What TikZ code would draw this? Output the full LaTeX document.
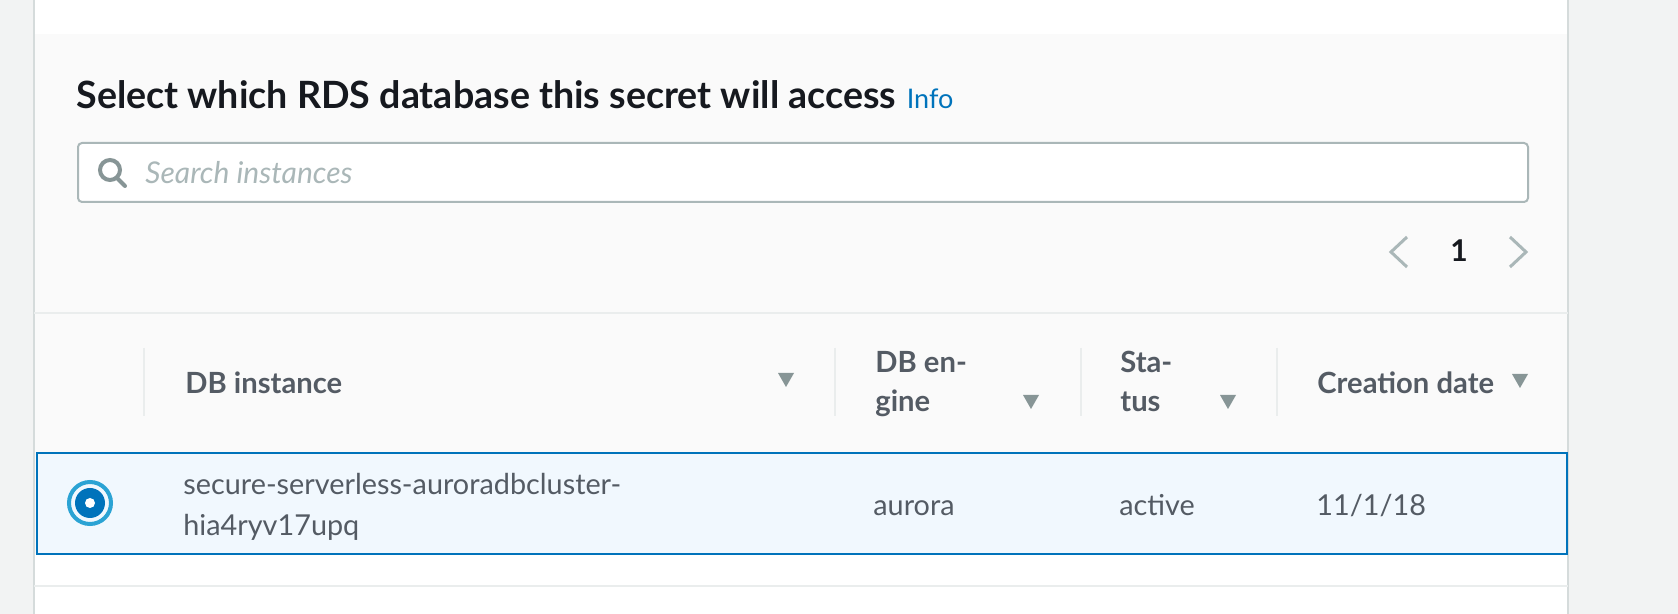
\documentclass[tikz,border=0pt]{standalone}
\usepackage{fontspec}
\setmainfont{Lato}
\usepackage{xcolor}
\usetikzlibrary{positioning}

\definecolor{pagegray}{HTML}{F2F3F3}
\definecolor{panelgray}{HTML}{FAFAFA}
\definecolor{edgegray}{HTML}{D5DBDB}
\definecolor{rulegray}{HTML}{EAEDED}
\definecolor{inkdark}{HTML}{16191F}
\definecolor{inkgray}{HTML}{545B64}
\definecolor{icongray}{HTML}{879596}
\definecolor{hintgray}{HTML}{AAB7B8}
\definecolor{awsblue}{HTML}{0073BB}
\definecolor{ringcyan}{HTML}{2BA3D4}
\definecolor{rowblue}{HTML}{F1F8FE}

\begin{document}
\begin{tikzpicture}[x=0.5pt, y=-0.5pt,
    head/.style={anchor=base west, inner sep=0pt, text=inkgray,
        font=\fontsize{14.6}{17}\selectfont\bfseries},
    cell/.style={anchor=base west, inner sep=0pt, text=inkgray,
        font=\fontsize{14.4}{17}\selectfont},
    rule/.style={rulegray, line width=1pt}]

    \useasboundingbox (0,0) rectangle (1678,614);

    %background
    \fill[pagegray] (0,0) rectangle (1678,614);
    \fill[white] (34,0) rectangle (1568,34);
    \fill[panelgray] (34,34) rectangle (1568,554);
    \fill[white] (34,554) rectangle (1568,614);
    \draw[edgegray, line width=1pt] (34,0) -- (34,614);
    \draw[edgegray, line width=1pt] (1568,0) -- (1568,614);

    %title
    \node[anchor=base west, inner sep=0pt, text=inkdark,
        font=\fontsize{18.8}{22}\selectfont\bfseries] (title) at (76,109)
        {Select which RDS database this secret will access};
    \node[right=5pt of title.base east, anchor=base west, inner sep=0pt,
        text=awsblue, font=\fontsize{13.5}{16}\selectfont] (info) {Info};

    %search box
    \node[draw=hintgray, line width=1pt, rounded corners=2pt, fill=white,
        anchor=north west, inner sep=0pt, minimum width=725pt,
        minimum height=29.5pt] (search) at (77,142) {};
    \draw[icongray, line width=2pt] (110,170) circle (5pt);
    \draw[icongray, line width=2pt, line cap=round] (117,178) -- (125,186);
    \node[anchor=base west, inner sep=0pt, text=hintgray,
        font=\fontsize{15}{18}\selectfont\itshape] (hint) at (145,184)
        {Search instances};

    %pages
    \draw[hintgray, line width=1.5pt] (1407,237) -- (1391,252) -- (1407,267);
    \node[anchor=base, inner sep=0pt, text=inkdark,
        font=\fontsize{15}{18}\selectfont\bfseries] (page) at (1459,262) {1};
    \draw[hintgray, line width=1.5pt] (1510,237) -- (1526,252) -- (1510,267);

    %horizontal lines
    \draw[rule] (34,313) -- (1568,313);
    \draw[rule] (34,586) -- (1568,586);

    %vertical lines
    \foreach \x in {144,835,1081,1277}
        \draw[rule] (\x,348) -- (\x,416);

    %header
    \node[head] (hinst) at (185,394) {DB instance};
    \node[head] (heng) at (875,373) {DB en-};
    \node[head] (heng2) at (875,412) {gine};
    \node[head] (hstat) at (1120,373) {Sta-};
    \node[head] (hstat2) at (1120,412) {tus};
    \node[head] (hdate) at (1317,394) {Creation date};

    \foreach \x/\y in {786/380,1031/402,1228/402,1520/381}
        \fill[icongray] (\x-8,\y-7) -- (\x+8,\y-7) -- (\x,\y+7) -- cycle;

    %selected row
    \draw[awsblue, line width=1.25pt, fill=rowblue] (37,453) rectangle (1567,554);
    \draw[ringcyan, line width=2pt] (90,503) circle (10.5pt);
    \fill[awsblue] (90,503) circle (7.5pt);
    \fill[white] (90,503) circle (2.5pt);

    \node[cell] (inst) at (183,495) {secure-serverless-auroradbcluster-};
    \node[cell] (inst2) at (183,536) {hia4ryv17upq};
    \node[cell] (eng) at (873,516) {aurora};
    \node[cell] (stat) at (1119,516) {active};
    \node[cell] (date) at (1316,516) {11/1/18};

\end{tikzpicture}
\end{document}
